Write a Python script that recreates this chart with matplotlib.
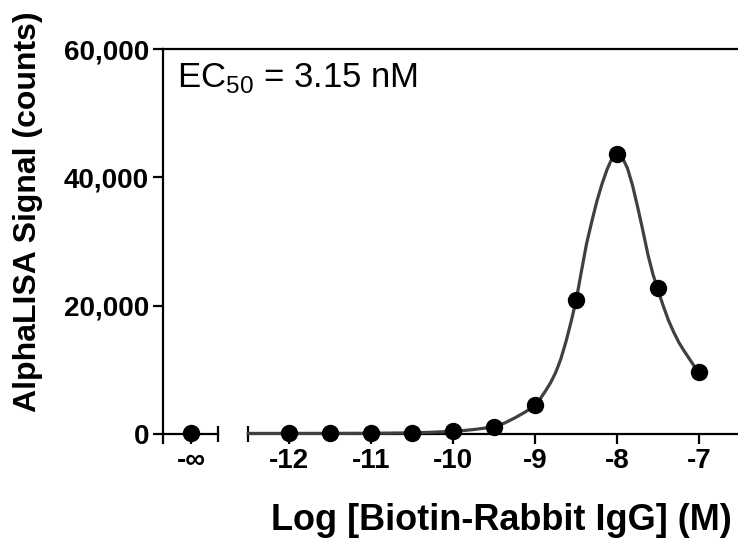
import numpy as np
import matplotlib.pyplot as plt
from matplotlib.ticker import FuncFormatter

plt.rcParams['font.family'] = ['Liberation Sans', 'DejaVu Sans']
plt.rcParams['mathtext.fontset'] = 'custom'
plt.rcParams['mathtext.rm'] = 'Liberation Sans'

# measured points (log M); the -inf (no antibody) well is plotted separately
log_conc = [-12, -11.5, -11, -10.5, -10, -9.5, -9, -8.5, -8, -7.5, -7]
signal = [100, 120, 120, 200, 450, 1050, 4450, 20900, 43650, 22700, 9600]
zero_signal = 150

# fitted bell-shaped curve
fit_x = [-12.5, -12, -11.5, -11, -10.5, -10.25, -10, -9.875, -9.75, -9.625,
         -9.5, -9.375, -9.25, -9.125, -9.0, -8.9375, -8.875, -8.8125, -8.75,
         -8.6875, -8.625, -8.5625, -8.5, -8.4375, -8.375, -8.3125, -8.25,
         -8.1875, -8.125, -8.0625, -8.0, -7.9375, -7.875, -7.8125, -7.75,
         -7.6875, -7.625, -7.5625, -7.5, -7.4375, -7.375, -7.3125, -7.25,
         -7.1875, -7.125, -7.0625, -7.0]
fit_y = [90, 95, 100, 120, 180, 280, 420, 540, 700, 900,
         1200, 1700, 2500, 3400, 4500, 5500, 6700, 8000, 9600,
         11700, 14400, 17500, 20900, 25300, 29600, 33000, 36200,
         38900, 41200, 43000, 43700, 43100, 41400, 38700, 35300,
         31700, 27900, 24800, 22300, 19900, 17700, 15900, 14300,
         13000, 11800, 10600, 9600]

xtick_vals = [-12, -11, -10, -9, -8, -7]
yticks = [0, 20000, 40000, 60000]

# where the broken x axis puts things
X_LEFT, X_RIGHT = -13.537, -6.528
X_INF = -13.195
SEG_END, MAIN_START = -12.866, -12.5

fig = plt.figure(figsize=(7.38, 5.40), dpi=100)
ax = fig.add_axes([163 / 738, 1 - 443 / 540, 1 - 163 / 738, (443 - 49) / 540])

ax.plot(fit_x, fit_y, color='#404040', lw=2.3, zorder=3,
        solid_capstyle='round', solid_joinstyle='round')
ax.plot(log_conc, signal, 'o', color='black', ms=11.5, zorder=4, clip_on=False)
ax.plot([X_INF], [zero_signal], 'o', color='black', ms=11.5, zorder=4, clip_on=False)

ax.set_xlim(X_LEFT, X_RIGHT)
ax.set_ylim(-1400, 60000)

# spines
for s in ['left', 'top', 'bottom']:
    ax.spines[s].set_linewidth(1.6)
ax.spines['right'].set_visible(False)
ax.spines['bottom'].set_position(('data', 0))
ax.spines['bottom'].set_bounds(MAIN_START, X_RIGHT)
ax.spines['top'].set_position(('data', 60000))

# short segment for the -inf position, with end caps at the break
ax.plot([X_LEFT, SEG_END], [0, 0], color='black', lw=1.6, clip_on=False, zorder=2)
ax.plot([SEG_END, MAIN_START], [0, 0], '|', color='black', ms=12, mew=1.6,
        clip_on=False, zorder=2)

ax.set_xticks([X_INF] + xtick_vals)
ax.set_xticklabels(['-\u221e'] + [str(v) for v in xtick_vals])
ax.set_yticks(yticks)
ax.yaxis.set_major_formatter(FuncFormatter(lambda v, p: f'{int(v):,}'))
ax.tick_params(axis='both', direction='out', length=7, width=1.6,
               labelsize=20, pad=3)
ax.tick_params(top=False)
for lab in ax.get_xticklabels() + ax.get_yticklabels():
    lab.set_fontweight('bold')

ax.set_ylabel('AlphaLISA Signal (counts)', fontsize=23, fontweight='bold')
ax.yaxis.set_label_coords(-0.208, 0.586)
ax.set_xlabel('Log [Biotin-Rabbit IgG] (M)', fontsize=26, fontweight='bold')
ax.xaxis.set_label_coords(0.588, -0.152)

ax.text(0.024, 0.97, 'EC$_{50}$ = 3.15 nM', transform=ax.transAxes,
        fontsize=25, va='top', ha='left')

fig.savefig('out.png', dpi=100)
